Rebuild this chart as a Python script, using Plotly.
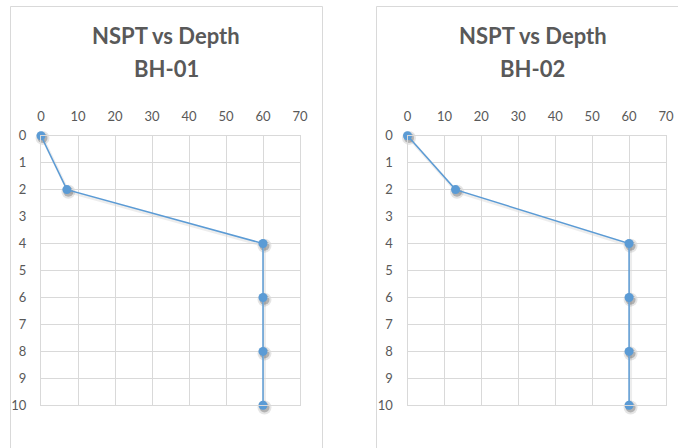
import plotly.graph_objects as go

# SPT blow counts against depth for two boreholes
depth = [0, 2, 4, 6, 8, 10]
nspt_bh01 = [0, 7, 60, 60, 60, 60]
nspt_bh02 = [0, 13, 60, 60, 60, 60]
titles = ["NSPT vs Depth<br>BH-01", "NSPT vs Depth<br>BH-02"]
x_ticks = [0, 10, 20, 30, 40, 50, 60, 70]
y_ticks = [0, 1, 2, 3, 4, 5, 6, 7, 8, 9, 10]

W, H = 678, 448
BLUE = "#5B9BD5"
GRID = "#D9D9D9"
TXT = "#595959"
FONT = "Lato"

# plot-area boxes in pixels: (left, right, top, bottom)
boxes = [(41, 300, 135.7, 405.3), (407.5, 666, 135.7, 405.3)]
# chart frames: (left, right, top)
frames = [(10.5, 322.5, 6.5), (376.5, 700, 6.5)]
title_cx = [166, 532.5]
shadow_dx, shadow_dy = 1.5, 2.2


def px_domain_x(a, b):
    return [a / W, b / W]


def px_domain_y(top, bottom):
    return [1 - bottom / H, 1 - top / H]


fig = go.Figure()
series = [nspt_bh01, nspt_bh02]

layout = dict(
    template="none",
    width=W, height=H,
    margin=dict(l=0, r=0, t=0, b=0, pad=0),
    paper_bgcolor="white",
    plot_bgcolor="rgba(0,0,0,0)",
    showlegend=False,
    font=dict(family=FONT, color=TXT, size=13),
)

# soft drop shadow underneath each series, on hidden axes nudged down/right
for i, vals in enumerate(series):
    l, r, t, b = boxes[i]
    n = i + 1
    xa, ya = f"xaxis{n}" if n > 1 else "xaxis", f"yaxis{n}" if n > 1 else "yaxis"
    xr, yr = (f"x{n}", f"y{n}") if n > 1 else ("x", "y")
    layout[xa] = dict(domain=px_domain_x(l + shadow_dx, r + shadow_dx), range=[0, 70],
                      visible=False, automargin=False, anchor=yr)
    layout[ya] = dict(domain=px_domain_y(t + shadow_dy, b + shadow_dy), range=[10, 0],
                      visible=False, automargin=False, anchor=xr)
    fig.add_trace(go.Scatter(
        x=vals, y=depth, mode="lines+markers", cliponaxis=False,
        line=dict(color="rgba(0,0,0,0.07)", width=3),
        marker=dict(size=14, color="rgba(0,0,0,0.10)", line=dict(width=0)),
        xaxis=xr, yaxis=yr, hoverinfo="skip",
    ))
    fig.add_trace(go.Scatter(
        x=vals, y=depth, mode="markers", cliponaxis=False,
        marker=dict(size=10, color="rgba(0,0,0,0.22)", line=dict(width=0)),
        xaxis=xr, yaxis=yr, hoverinfo="skip",
    ))

# visible charts
for i, vals in enumerate(series):
    l, r, t, b = boxes[i]
    n = i + 3
    layout[f"xaxis{n}"] = dict(
        domain=px_domain_x(l, r), range=[0, 70], side="top",
        tickvals=x_ticks, showgrid=True, gridcolor=GRID, gridwidth=1,
        showline=True, linecolor=GRID, linewidth=1, mirror=True,
        zeroline=False, ticks="", ticklabelstandoff=9, automargin=False,
        tickfont=dict(family=FONT, size=13, color=TXT), anchor=f"y{n}",
        fixedrange=True,
    )
    layout[f"yaxis{n}"] = dict(
        domain=px_domain_y(t, b), range=[10, 0],
        tickvals=y_ticks, showgrid=True, gridcolor=GRID, gridwidth=1,
        showline=True, linecolor=GRID, linewidth=1, mirror=True,
        zeroline=False, ticks="", ticklabelstandoff=11, automargin=False,
        tickfont=dict(family=FONT, size=13, color=TXT), anchor=f"x{n}",
        fixedrange=True,
    )
    fig.add_trace(go.Scatter(
        x=vals, y=depth, mode="lines+markers", cliponaxis=False,
        line=dict(color=BLUE, width=1.5),
        marker=dict(size=9, color=BLUE, line=dict(width=0)),
        xaxis=f"x{n}", yaxis=f"y{n}",
    ))

fig.update_layout(**layout)

# chart frames (open at the bottom/right where they run off the page)
for (fl, fr, ft) in frames:
    for x0, y0, x1, y1 in [(fl, ft, fl, H + 20), (fl, ft, fr, ft), (fr, ft, fr, H + 20)]:
        fig.add_shape(type="line", xref="paper", yref="paper",
                      x0=x0 / W, x1=x1 / W, y0=1 - y0 / H, y1=1 - y1 / H,
                      line=dict(color=GRID, width=1))

# two-line titles
for i, title in enumerate(titles):
    top, bottom = title.split("<br>")
    for text, yc in [(top, 35.5), (bottom, 68)]:
        fig.add_annotation(
            text=f"<b>{text}</b>", xref="paper", yref="paper",
            x=title_cx[i] / W, y=1 - yc / H, xanchor="center", yanchor="middle",
            showarrow=False, font=dict(family=FONT, size=22, color=TXT),
        )

fig.write_html("out.html")
